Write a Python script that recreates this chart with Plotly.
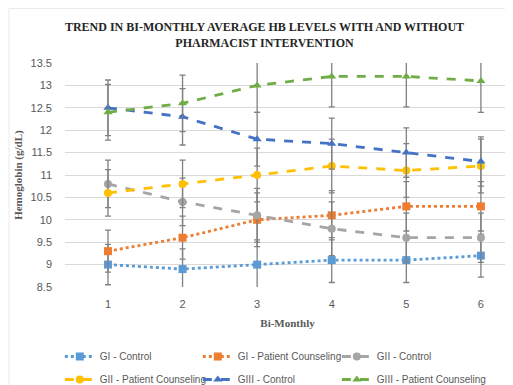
import plotly.graph_objects as go

periods = [1, 2, 3, 4, 5, 6]
series_names = ["GI - Control", "GI - Patient Counseling", "GII - Control",
                "GII - Patient Counseling", "GIII - Control", "GIII - Patient Counseling"]
gi_control = [9.0, 8.9, 9.0, 9.1, 9.1, 9.2]
gi_counsel = [9.3, 9.6, 10.0, 10.1, 10.3, 10.3]
gii_control = [10.8, 10.4, 10.1, 9.8, 9.6, 9.6]
gii_counsel = [10.6, 10.8, 11.0, 11.2, 11.1, 11.2]
giii_control = [12.5, 12.3, 11.8, 11.7, 11.5, 11.3]
giii_counsel = [12.4, 12.6, 13.0, 13.2, 13.2, 13.1]

gi_control_err = [0.45, 0.45, 0.55, 0.5, 0.5, 0.48]
gi_counsel_err = [0.47, 0.48, 0.6, 0.55, 0.55, 0.55]
gii_control_err = [0.53, 0.53, 0.6, 0.6, 0.55, 0.55]
gii_counsel_err = [0.52, 0.53, 0.6, 0.6, 0.6, 0.6]
giii_control_err = [0.62, 0.63, 0.6, 0.57, 0.55, 0.55]
giii_counsel_err = [0.62, 0.63, 0.6, 0.68, 0.68, 0.7]

values = [gi_control, gi_counsel, gii_control, gii_counsel, giii_control, giii_counsel]
errors = [gi_control_err, gi_counsel_err, gii_control_err, gii_counsel_err,
          giii_control_err, giii_counsel_err]
colors = ["#5B9BD5", "#ED7D31", "#A5A5A5", "#FFC000", "#4472C4", "#70AD47"]
symbols = ["square", "square", "circle", "circle", "triangle-up", "triangle-up"]
dashes = ["dot", "dot", "dash", "dash", "dash", "dash"]
# legend columns (Excel-style 3-column legend, 2 rows)
legend_ids = ["legend", "legend2", "legend3", "legend", "legend2", "legend3"]

fig = go.Figure()
for i, (name, v, e, c, s, d, lg) in enumerate(
        zip(series_names, values, errors, colors, symbols, dashes, legend_ids)):
    fig.add_trace(go.Scatter(
        x=periods, y=v, name=name, mode="lines+markers", legend=lg,
        legendgroup=f"g{i}",
        line=dict(color=c, width=2.8, dash=d),
        marker=dict(color=c, symbol=s, size=8),
        error_y=dict(type="data", array=e, visible=True, color="#808080",
                     thickness=1.3, width=3),
    ))

legend_common = dict(
    orientation="v", xref="container", yref="container",
    xanchor="left", yanchor="top", y=0.1325,
    tracegroupgap=4,
    font=dict(family="Liberation Sans", size=10, color="#595959"),
    bgcolor="rgba(0,0,0,0)",
)

fig.update_layout(
    width=513, height=385,
    margin=dict(l=57, r=11, t=55, b=106, autoexpand=False),
    paper_bgcolor="white", plot_bgcolor="white",
    font=dict(family="Liberation Sans", size=11, color="#595959"),
    title=dict(
        text="TREND IN BI-MONTHLY AVERAGE HB LEVELS WITH AND WITHOUT<br>PHARMACIST INTERVENTION",
        x=0.5, xanchor="center", xref="container", y=0.939, yanchor="middle", yref="container",
        font=dict(family="Liberation Serif", size=12, color="#262626", weight="bold"),
    ),
    xaxis=dict(
        range=[0.424, 6.39], tickvals=periods, ticktext=[str(p) for p in periods],
        showgrid=False, zeroline=False, showline=False, ticks="", automargin=False,
        ticklabelstandoff=9,
        title=dict(text="Bi-Monthly", standoff=10,
                   font=dict(family="Liberation Serif", size=11, color="#595959", weight="bold")),
        tickfont=dict(family="Liberation Sans", size=11, color="#595959"),
    ),
    yaxis=dict(
        range=[8.5, 13.5], dtick=0.5, tick0=8.5,
        showgrid=True, gridcolor="#D9D9D9", gridwidth=1, zeroline=False,
        showline=False, ticks="", ticklabelstandoff=12, automargin=False,
        tickfont=dict(family="Liberation Sans", size=11, color="#595959"),
    ),
    annotations=[dict(
        text="Hemoglobin (g/dL)", textangle=-90, showarrow=False,
        xref="paper", yref="paper", x=-0.106, y=0.5, xanchor="center", yanchor="middle",
        font=dict(family="Liberation Serif", size=11, color="#595959", weight="bold"),
    )],
    shapes=[dict(
        type="rect", xref="paper", yref="paper", x0=-0.1258, x1=1.2, y0=-0.8, y1=1.243,
        line=dict(color="#EBEBEB", width=1), fillcolor="rgba(0,0,0,0)", layer="below",
    )],
    legend=dict(x=0.101, **legend_common),
    legend2=dict(x=0.370, **legend_common),
    legend3=dict(x=0.641, **legend_common),
    showlegend=True,
)

fig.write_html("out.html")
